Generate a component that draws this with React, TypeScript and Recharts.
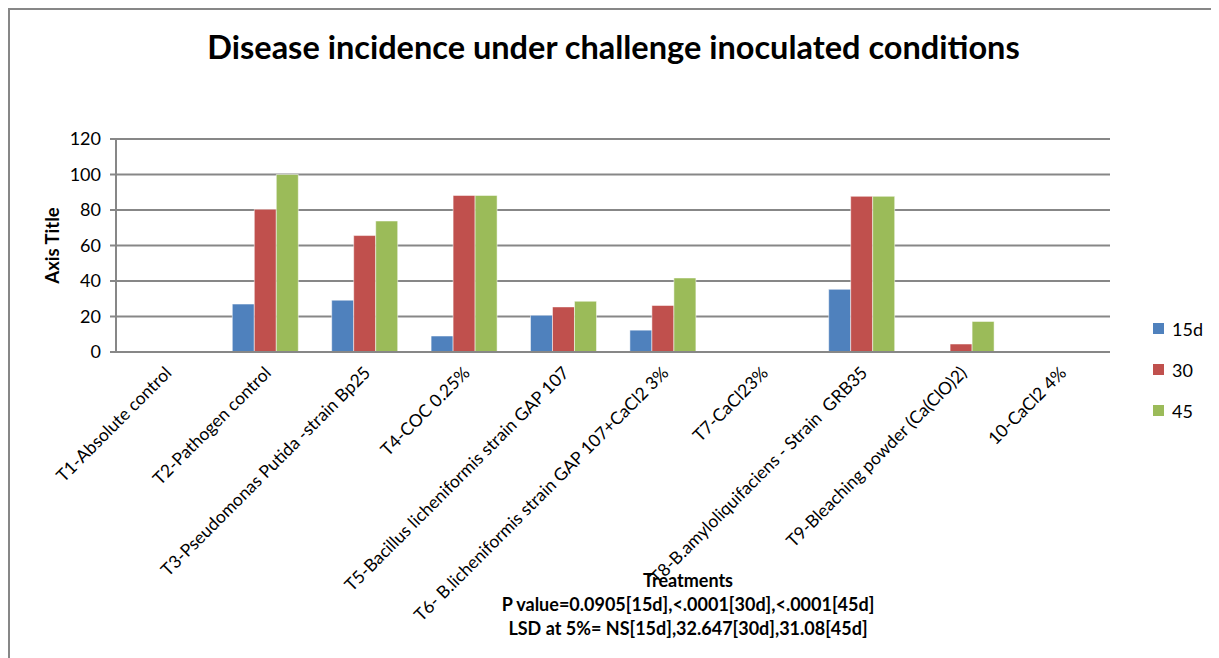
import { BarChart, Bar, XAxis, YAxis, CartesianGrid } from 'recharts';

const categories = [
  'T1-Absolute control',
  'T2-Pathogen control',
  'T3-Pseudomonas Putida -strain Bp25',
  'T4-COC 0.25%',
  'T5-Bacillus licheniformis strain GAP 107',
  'T6- B.licheniformis strain GAP 107+CaCl2 3%',
  'T7-CaCl23%',
  'T8-B.amyloliquifaciens - Strain  GRB35',
  'T9-Bleaching powder (Ca(ClO)2)',
  '10-CaCl2 4%',
];
const d15 = [0, 27, 29.2, 9, 20.7, 12.3, 0, 35.3, 0, 0];
const d30 = [0, 80.4, 65.6, 88.2, 25.4, 26.2, 0, 87.7, 4.5, 0];
const d45 = [0, 100, 73.8, 88.2, 28.6, 41.7, 0, 87.7, 17.2, 0];
const yTicks = [0, 20, 40, 60, 80, 100, 120];

const series = [
  { key: 'd15', name: '15d', color: '#4F81BD' },
  { key: 'd30', name: '30', color: '#C0504D' },
  { key: 'd45', name: '45', color: '#9BBB59' },
];

const data = categories.map((name, i) => ({ name, d15: d15[i], d30: d30[i], d45: d45[i] }));

const FONT = "Lato, 'Open Sans', sans-serif";
const GRID = '#878787';

function XTick({ x, y, payload }: any) {
  const ax = x + 7;
  const ay = y + 14;
  return (
    <text
      x={ax}
      y={ay}
      transform={`rotate(-45 ${ax} ${ay})`}
      textAnchor="end"
      fontSize={17.5}
      fill="#000"
      fontFamily={FONT}
      style={{ whiteSpace: 'pre' }}
    >
      {payload.value}
    </text>
  );
}

export default function App() {
  return (
    <div style={{ position: 'relative', width: 1211, height: 650, fontFamily: FONT, background: '#fff' }}>
      <div
        style={{
          position: 'absolute',
          left: 0,
          top: 0,
          width: 1208,
          height: 660,
          borderTop: `2px solid ${GRID}`,
          borderLeft: `2px solid ${GRID}`,
          borderRight: `2px solid ${GRID}`,
          boxSizing: 'border-box',
        }}
      />
      <div
        style={{
          position: 'absolute',
          left: 0,
          width: 1211,
          top: 19,
          textAlign: 'center',
          fontSize: 32.5,
          fontWeight: 700,
        }}
      >
        Disease incidence under challenge inoculated conditions
      </div>
      <BarChart
        width={1211}
        height={650}
        data={data}
        margin={{ top: 131, right: 109, bottom: 106, left: 48 }}
        barCategoryGap="17%"
        barGap={0}
      >
        <CartesianGrid vertical={false} stroke={GRID} strokeWidth={2} />
        <XAxis
          dataKey="name"
          interval={0}
          height={200}
          tick={<XTick />}
          tickLine={false}
          axisLine={{ stroke: GRID, strokeWidth: 2 }}
        />
        <YAxis
          width={60}
          domain={[0, 120]}
          ticks={yTicks}
          tick={{ fontSize: 18, fill: '#000', fontFamily: FONT }}
          tickLine={{ stroke: GRID, strokeWidth: 2 }}
          tickSize={6}
          tickMargin={9}
          axisLine={{ stroke: GRID, strokeWidth: 2 }}
          label={{
            value: 'Axis Title',
            angle: -90,
            position: 'insideLeft',
            offset: 0,
            dx: -4,
            style: { fontSize: 18.5, fontWeight: 700, fill: '#000', fontFamily: FONT, textAnchor: 'middle' },
          }}
        />
        {series.map((s) => (
          <Bar
            key={s.key}
            dataKey={s.key}
            name={s.name}
            fill={s.color}
            stroke="#ffffff"
            strokeOpacity={0.5}
            strokeWidth={1}
            isAnimationActive={false}
          />
        ))}
      </BarChart>
      <div style={{ position: 'absolute', left: 1145, top: 300, fontSize: 18 }}>
        {series.map((s) => (
          <div key={s.key} style={{ display: 'flex', alignItems: 'center', height: 41 }}>
            <div style={{ width: 11, height: 11, background: s.color, marginRight: 8 }} />
            <span>{s.name}</span>
          </div>
        ))}
      </div>
      <div
        style={{
          position: 'absolute',
          left: 430,
          width: 500,
          top: 560,
          textAlign: 'center',
          fontSize: 18,
          fontWeight: 700,
          lineHeight: '24px',
        }}
      >
        <div>Treatments</div>
        <div>P value=0.0905[15d],&lt;.0001[30d],&lt;.0001[45d]</div>
        <div>LSD at 5%= NS[15d],32.647[30d],31.08[45d]</div>
      </div>
    </div>
  );
}
